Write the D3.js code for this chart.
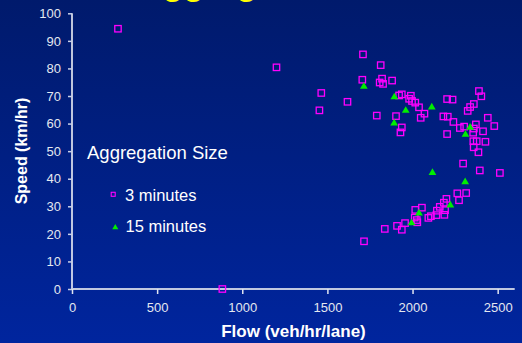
<!DOCTYPE html>
<html><head><meta charset="utf-8">
<script src="https://cdn.jsdelivr.net/npm/d3@7"></script>
<style>html,body{margin:0;padding:0;overflow:hidden;background:#001c78}</style>
</head><body>
<script>
// ---- data ----
const flow3 = [270,1201,883,1709,1813,1705,1821,1807,1827,1880,1464,1618,1453,1790,1903,1921,1937,1990,1980,1997,2016,2038,2070,2048,1937,1929,2203,2235,2181,2207,2240,2203,2278,2303,2390,2404,2360,2338,2324,2442,2480,2372,2360,2414,2356,2357,2377,2428,2359,2387,2297,2395,2513,2263,2315,2273,2199,2184,2160,2191,2143,2187,2140,2108,2093,2055,2016,2013,2028,1956,1909,1937,1837,1715,2025];
const speed3 = [94.4,80.4,0,85.1,81.2,75.9,76.3,74.9,74.4,75.6,71.1,67.9,64.8,62.9,62.7,70.2,70.6,70.1,69.0,68.2,67.6,65.9,63.6,62.1,58.6,56.8,68.9,68.7,62.6,62.5,60.6,56.2,58.4,58.9,71.8,69.9,67.1,66.0,64.6,62.1,59.1,59.7,58.2,57.2,56.7,53.6,53.6,53.4,51.4,49.6,45.5,43.0,42.1,34.7,34.8,32.2,32.7,31.3,29.8,28.6,28.4,26.9,26.8,26.4,25.8,29.5,28.7,25.9,24.2,23.9,22.9,21.5,21.8,17.3,25.0];
const flow15 = [1714,1893,1960,2113,1892,2338,2311,2117,2309,2222,2038,1994];
const speed15 = [73.4,69.6,64.7,65.9,60.1,58.6,56.0,42.2,38.8,30.4,27.5,23.9];
const xTicks = [0,500,1000,1500,2000,2500];
const yTicks = [0,10,20,30,40,50,60,70,80,90,100];
const seriesNames = ["3 minutes","15 minutes"];
const legendTitle = "Aggregation Size";
const xLabel = "Flow (veh/hr/lane)";
const yLabel = "Speed (km/hr)";
const titleText = "Aggregation";

// ---- drawing ----
const W = 522, H = 343;
const svg = d3.select("body").append("svg").attr("width", W).attr("height", H);
const defs = svg.append("defs");
const grad = defs.append("linearGradient").attr("id","bg").attr("x1",0).attr("y1",0).attr("x2",0).attr("y2",1);
grad.append("stop").attr("offset","0%").attr("stop-color","#001a6c");
grad.append("stop").attr("offset","100%").attr("stop-color","#00259e");
svg.append("rect").attr("width",W).attr("height",H).attr("fill","url(#bg)");

// cut-off title (only descender tips visible, as in the reference)
svg.append("text").attr("x",138).attr("y",-5)
  .attr("font-family","Liberation Sans, Arial, sans-serif").attr("font-weight","bold")
  .attr("font-size",34).attr("fill","#ffff00").text(titleText);

const x = d3.scaleLinear().domain([0,2600]).range([72,514.7]);
const y = d3.scaleLinear().domain([0,100]).range([289,13.3]);

const font = "Liberation Sans, Arial, sans-serif";

// y axis
const gy = svg.append("g").attr("transform","translate(72,0)")
  .call(d3.axisLeft(y).tickValues(yTicks).tickFormat(d3.format("d")).tickSize(4).tickPadding(7));
gy.select(".domain").attr("stroke","#ffffff").attr("stroke-width",1.5).attr("d","M0,13.3V289");
gy.selectAll(".tick line").attr("stroke","#c8d0e8").attr("stroke-width",1.5);
gy.selectAll(".tick text").attr("fill","#e4e8f0").attr("font-family",font).attr("font-size",13);

// x axis
const gx = svg.append("g").attr("transform","translate(0,289)")
  .call(d3.axisBottom(x).tickValues(xTicks).tickFormat(d3.format("d")).tickSize(5).tickPadding(9));
gx.select(".domain").attr("stroke","#c0c8e0").attr("stroke-width",2).attr("d","M72,0H514.7");
gx.selectAll(".tick line").attr("stroke","#e0e4f0").attr("stroke-width",1.5);
gx.selectAll(".tick text").attr("fill","#e4e8f0").attr("font-family",font).attr("font-size",13);

// axis labels
svg.append("text").attr("x",293.5).attr("y",336.5).attr("text-anchor","middle")
  .attr("font-family",font).attr("font-weight","bold").attr("font-size",17)
  .attr("fill","#ffffff").text(xLabel);
svg.append("text").attr("transform","translate(26.5,151) rotate(-90)").attr("text-anchor","middle")
  .attr("font-family",font).attr("font-weight","bold").attr("font-size",16)
  .attr("fill","#ffffff").text(yLabel);

// points
const d3min = flow3.map((f,i)=>({f, s: speed3[i]}));
const d15 = flow15.map((f,i)=>({f, s: speed15[i]}));
svg.append("g").selectAll("rect").data(d3min).join("rect")
  .attr("x", d=>x(d.f)-3.2).attr("y", d=>y(d.s)-3.2)
  .attr("width",6.4).attr("height",6.4)
  .attr("fill","none").attr("stroke","#ff00ff").attr("stroke-width",1.3);
const tri = d3.symbol(d3.symbolTriangle, 26);
svg.append("g").selectAll("path").data(d15).join("path")
  .attr("transform", d=>`translate(${x(d.f)},${y(d.s)})`)
  .attr("d", tri).attr("fill","#00ee00");

// legend
svg.append("text").attr("x",87).attr("y",158.5).attr("font-family",font)
  .attr("font-size",18.5).attr("fill","#ffffff").text(legendTitle);
svg.append("rect").attr("x",111.2).attr("y",192.3).attr("width",4).attr("height",4)
  .attr("fill","none").attr("stroke","#ff00ff").attr("stroke-width",1.1);
svg.append("text").attr("x",125).attr("y",200.8).attr("font-family",font)
  .attr("font-size",16.5).attr("fill","#ffffff").text(seriesNames[0]);
svg.append("path").attr("transform","translate(115.3,227.6)")
  .attr("d", d3.symbol(d3.symbolTriangle, 16)).attr("fill","#00ee00");
svg.append("text").attr("x",125.5).attr("y",231.8).attr("font-family",font)
  .attr("font-size",16.5).attr("fill","#ffffff").text(seriesNames[1]);
</script>
</body></html>
